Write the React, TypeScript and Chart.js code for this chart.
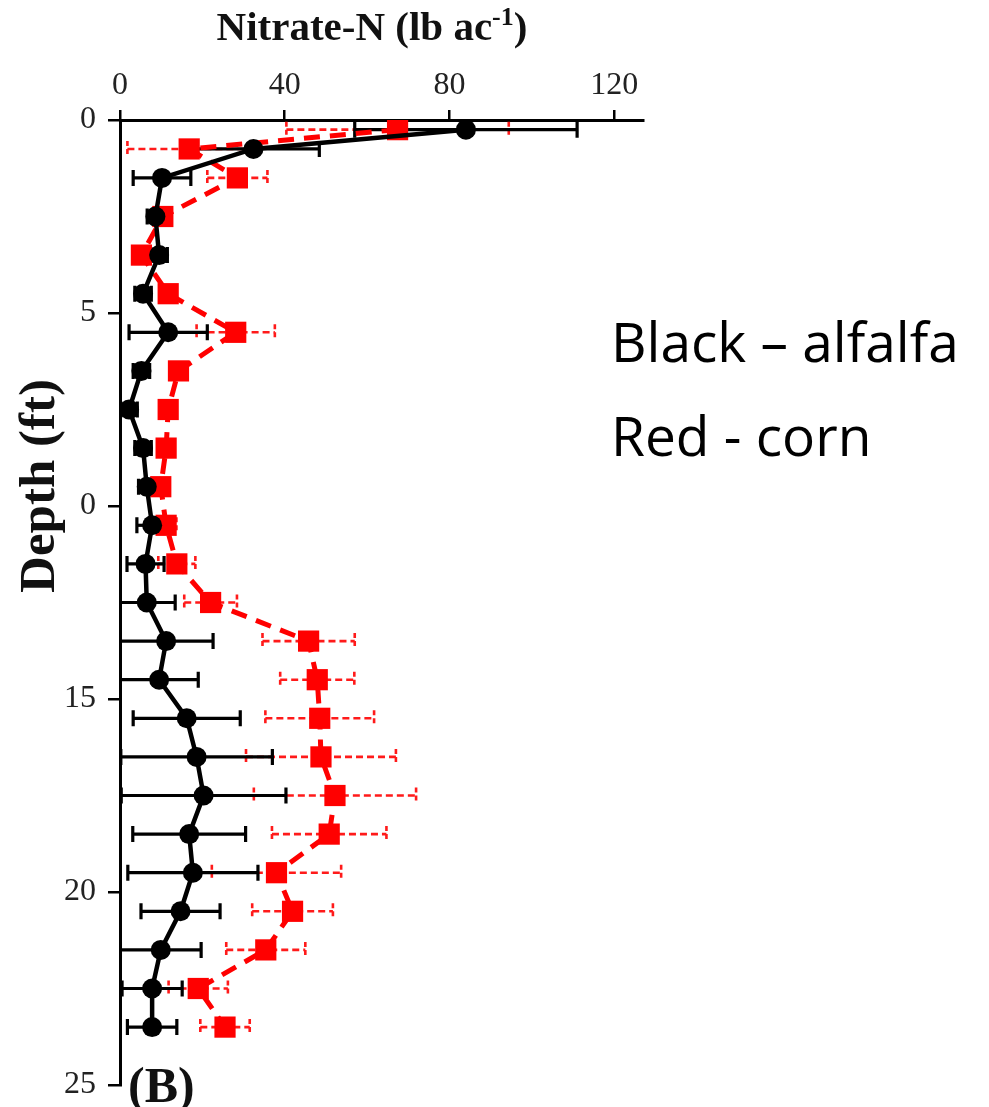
import React, { useEffect, useRef } from "react";
import { Chart, registerables } from "chart.js";

Chart.register(...registerables);

// Depth of each sample (ft)
const depths = [0.25, 0.75, 1.5, 2.5, 3.5, 4.5, 5.5, 6.5, 7.5, 8.5, 9.5, 10.5, 11.5, 12.5, 13.5, 14.5, 15.5, 16.5, 17.5, 18.5, 19.5, 20.5, 21.5, 22.5, 23.5];
// Alfalfa (black)
const alfalfaN = [84, 32.4, 10.2, 8.6, 9.5, 5.6, 11.7, 5.2, 2.2, 5.6, 6.5, 7.8, 6.2, 6.5, 11.2, 9.5, 16.2, 18.6, 20.3, 16.8, 17.7, 14.7, 9.9, 7.8, 7.8];
const alfalfaErr = [27, 16, 7, 2, 2, 2, 9.5, 2, 2, 2, 2, 3.7, 4.5, 6.9, 11.4, 9.5, 13, 18.4, 20, 13.7, 15.8, 9.6, 9.8, 7.3, 6];
// Corn (red)
const cornN = [67.4, 16.8, 28.5, 10.4, 5.2, 11.7, 28.1, 14.2, 11.7, 11.2, 9.9, 11.2, 13.8, 22, 45.8, 47.9, 48.5, 48.8, 52.2, 50.8, 38, 41.9, 35.4, 19, 25.5];
const cornErr = [27, 15, 7.3, 2, 2, 2, 9.5, 2, 2, 2, 2, 2.5, 4.5, 6.4, 11.2, 9, 13.2, 18.2, 19.7, 13.9, 15.7, 9.8, 9.6, 7.2, 6];

const xTickValues = [0, 40, 80, 120];
const yTickLabels = ["0", "5", "0", "15", "20", "25"];

const errorBarPlugin = {
  id: "errorBars",
  beforeDatasetsDraw(chart: any) {
    const { ctx, chartArea } = chart;
    const xs = chart.scales.x;
    const ys = chart.scales.y;
    ctx.save();
    ctx.beginPath();
    ctx.rect(chartArea.left, chartArea.top - 30, chartArea.right - chartArea.left, chartArea.bottom - chartArea.top + 60);
    ctx.clip();
    const sets = [
      { vals: cornN, errs: cornErr, color: "#ff1a1a", dash: [7, 4], width: 2.6, capDash: [5, 3] },
      { vals: alfalfaN, errs: alfalfaErr, color: "#000000", dash: [], width: 3.2, capDash: [] },
    ];
    for (const s of sets) {
      ctx.strokeStyle = s.color;
      ctx.lineWidth = s.width;
      for (let i = 0; i < depths.length; i++) {
        const y = ys.getPixelForValue(depths[i]);
        const x1 = xs.getPixelForValue(s.vals[i] - s.errs[i]);
        const x2 = xs.getPixelForValue(s.vals[i] + s.errs[i]);
        ctx.setLineDash(s.dash);
        ctx.beginPath();
        ctx.moveTo(x1, y);
        ctx.lineTo(x2, y);
        ctx.stroke();
        ctx.setLineDash(s.capDash);
        ctx.beginPath();
        ctx.moveTo(x1, y - 8);
        ctx.lineTo(x1, y + 8);
        ctx.moveTo(x2, y - 8);
        ctx.lineTo(x2, y + 8);
        ctx.stroke();
      }
    }
    ctx.restore();
  },
};

const textPlugin = {
  id: "texts",
  afterDraw(chart: any) {
    const { ctx } = chart;
    ctx.save();
    ctx.fillStyle = "#111";
    // x title with superscript
    const mainFont = 'bold 41px "Liberation Serif"';
    const supFont = 'bold 26px "Liberation Serif"';
    const part1 = "Nitrate-N (lb ac";
    const sup = "-1";
    const part3 = ")";
    ctx.font = mainFont;
    const w1 = ctx.measureText(part1).width;
    const w3 = ctx.measureText(part3).width;
    ctx.font = supFont;
    const w2 = ctx.measureText(sup).width;
    const total = w1 + w2 + w3;
    let x = 372 - total / 2;
    const base = 40;
    ctx.textBaseline = "alphabetic";
    ctx.textAlign = "left";
    ctx.font = mainFont;
    ctx.fillText(part1, x, base);
    x += w1;
    ctx.font = supFont;
    ctx.fillText(sup, x, base - 15);
    x += w2;
    ctx.font = mainFont;
    ctx.fillText(part3, x, base);

    // y title
    ctx.save();
    ctx.translate(54, 486);
    ctx.rotate(-Math.PI / 2);
    ctx.font = 'bold 51px "Liberation Serif"';
    ctx.textAlign = "center";
    ctx.fillText("Depth (ft)", 0, 0);
    ctx.restore();

    // panel label
    ctx.font = 'bold 50px "Liberation Serif"';
    ctx.textAlign = "left";
    ctx.fillText("(B)", 128, 1102);

    // legend text
    ctx.fillStyle = "#000";
    ctx.font = '55px "Open Sans"';
    ctx.fillText("Black \u2013 alfalfa", 611, 362);
    ctx.fillText("Red - corn", 611, 456);
    ctx.restore();
  },
};

export default function App() {
  const ref = useRef<HTMLCanvasElement | null>(null);
  useEffect(() => {
    if (!ref.current) return;
    const chart = new Chart(ref.current, {
      type: "scatter",
      data: {
        datasets: [
          {
            label: "alfalfa",
            data: depths.map((d, i) => ({ x: alfalfaN[i], y: d })),
            showLine: true,
            borderColor: "#000",
            backgroundColor: "#000",
            borderWidth: 4.5,
            pointRadius: 10,
            pointHoverRadius: 10,
            pointStyle: "circle",
            pointBackgroundColor: "#000",
            pointBorderColor: "#000",
            pointBorderWidth: 0,
            tension: 0,
          },
          {
            label: "corn",
            data: depths.map((d, i) => ({ x: cornN[i], y: d })),
            showLine: true,
            borderColor: "#ff0000",
            backgroundColor: "#ff0000",
            borderDash: [16, 10],
            borderWidth: 5,
            pointRadius: 15,
            pointHoverRadius: 15,
            pointStyle: "rect",
            pointBackgroundColor: "#ff0000",
            pointBorderColor: "#ff0000",
            pointBorderWidth: 0,
            tension: 0,
          },
        ],
      },
      options: {
        animation: false,
        responsive: false,
        devicePixelRatio: 1,
        layout: { padding: { left: 0, top: 0, right: 346, bottom: 22 } },
        plugins: { legend: { display: false }, tooltip: { enabled: false }, title: { display: false } },
        scales: {
          x: {
            type: "linear",
            position: "top",
            min: 0,
            max: 127,
            afterFit: (s: any) => {
              s.height = 120;
              s.paddingLeft = 0;
              s.paddingRight = 0;
            },
            afterBuildTicks: (s: any) => {
              s.ticks = xTickValues.map((v) => ({ value: v }));
            },
            ticks: {
              font: { family: "Liberation Serif", size: 32 },
              color: "#222",
              padding: 5,
              maxRotation: 0,
            },
            grid: { drawOnChartArea: false, drawTicks: true, tickLength: 10, color: "#000", lineWidth: 2.5 },
            border: { display: true, color: "#000", width: 3 },
          },
          y: {
            type: "linear",
            reverse: true,
            min: 0,
            max: 25,
            afterFit: (s: any) => {
              s.width = 120;
              s.paddingTop = 0;
              s.paddingBottom = 0;
            },
            ticks: {
              stepSize: 5,
              font: { family: "Liberation Serif", size: 32 },
              color: "#222",
              padding: 12,
              callback: (v: any) => yTickLabels[Math.round(Number(v) / 5)] ?? "",
            },
            grid: { drawOnChartArea: false, drawTicks: true, tickLength: 12, color: "#000", lineWidth: 2.5 },
            border: { display: true, color: "#000", width: 3 },
          },
        },
      },
      plugins: [errorBarPlugin, textPlugin],
    });
    return () => chart.destroy();
  }, []);
  return (
    <div style={{ position: "absolute", left: 0, top: 0, width: 989, height: 1107, background: "#fff" }}>
      <canvas ref={ref} width={989} height={1107} style={{ width: 989, height: 1107, display: "block" }} />
    </div>
  );
}
